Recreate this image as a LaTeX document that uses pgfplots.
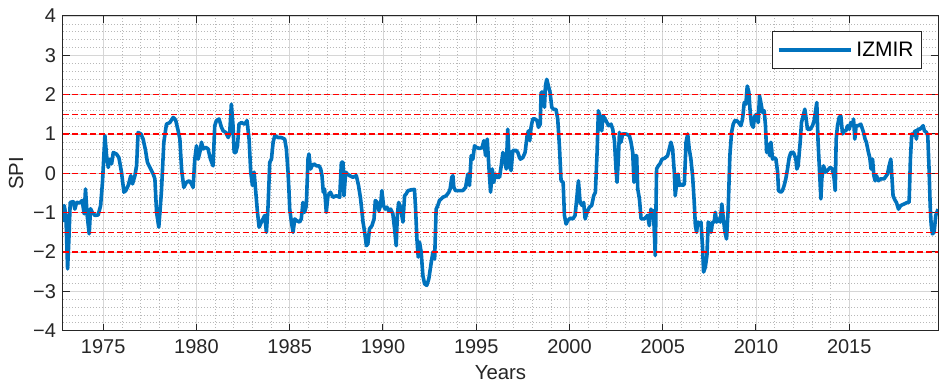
\documentclass[border=0pt]{standalone}
\usepackage{pgfplots}
\pgfplotsset{compat=1.18}
\usepackage{pgfplotstable}
\usepackage{fontspec}
\setmainfont{Liberation Sans}
\definecolor{mblue}{RGB}{0,114,189}
\definecolor{axgray}{RGB}{38,38,38}
\pgfplotstableread{
t v
1972.84 -1.24
1972.91 -0.82
1973.00 -1.07
1973.09 -2.43
1973.16 -1.67
1973.23 -0.74
1973.39 -0.72
1973.48 -0.91
1973.57 -0.74
1973.75 -0.75
1973.87 -0.69
1973.98 -1.03
1974.05 -0.40
1974.14 -1.07
1974.25 -1.54
1974.32 -0.90
1974.41 -0.99
1974.55 -1.07
1974.73 -1.06
1974.86 -0.82
1974.96 -0.23
1975.09 0.96
1975.18 0.45
1975.27 0.15
1975.36 0.36
1975.45 0.24
1975.54 0.53
1975.71 0.49
1975.84 0.40
1975.98 0.03
1976.11 -0.48
1976.21 -0.44
1976.34 -0.31
1976.48 -0.06
1976.57 -0.27
1976.70 -0.06
1976.79 0.20
1976.87 1.04
1977.02 1.00
1977.14 0.87
1977.27 0.58
1977.37 0.28
1977.50 0.15
1977.68 -0.02
1977.77 -0.14
1977.86 -0.99
1977.98 -1.37
1978.12 -0.48
1978.25 0.79
1978.39 1.25
1978.57 1.29
1978.75 1.42
1978.84 1.38
1978.89 1.34
1979.02 1.08
1979.11 0.87
1979.20 0.11
1979.32 -0.36
1979.46 -0.23
1979.61 -0.19
1979.73 -0.27
1979.82 -0.36
1979.91 0.36
1980.00 0.70
1980.09 0.36
1980.18 0.53
1980.27 0.79
1980.36 0.62
1980.50 0.66
1980.62 0.62
1980.75 0.36
1980.89 0.19
1980.98 1.21
1981.07 1.34
1981.21 1.38
1981.34 1.17
1981.43 1.08
1981.57 1.04
1981.70 0.91
1981.78 1.00
1981.87 1.76
1981.96 1.21
1982.02 0.53
1982.11 0.53
1982.20 0.70
1982.28 1.25
1982.41 1.29
1982.59 1.25
1982.71 1.34
1982.82 0.87
1982.91 0.03
1983.00 -0.31
1983.09 0.03
1983.18 -0.48
1983.27 -0.99
1983.36 -1.37
1983.48 -1.24
1983.57 -1.16
1983.66 -1.07
1983.75 -1.50
1983.84 -0.82
1983.93 0.28
1984.02 0.36
1984.11 0.79
1984.20 0.96
1984.37 0.91
1984.55 0.91
1984.73 0.87
1984.82 0.62
1984.91 0.03
1984.96 -0.45
1985.00 -0.91
1985.09 -1.24
1985.18 -1.50
1985.27 -1.16
1985.36 -1.20
1985.53 -1.24
1985.62 -1.16
1985.71 -0.74
1985.80 -0.99
1985.89 -0.82
1985.98 0.36
1986.03 0.49
1986.12 0.11
1986.19 0.19
1986.30 0.24
1986.43 0.19
1986.57 0.19
1986.66 0.11
1986.73 -0.06
1986.80 -0.48
1986.87 -0.40
1986.96 -0.99
1987.05 -0.57
1987.18 -0.48
1987.32 -0.61
1987.50 -0.57
1987.68 -0.61
1987.77 0.28
1987.86 0.28
1987.91 -0.57
1988.00 0.03
1988.09 -0.02
1988.21 -0.06
1988.39 -0.10
1988.57 -0.06
1988.69 -0.31
1988.80 -0.65
1988.93 -1.24
1989.02 -1.50
1989.11 -1.84
1989.19 -1.79
1989.28 -1.41
1989.41 -1.33
1989.52 -1.16
1989.59 -0.69
1989.69 -0.74
1989.78 -0.95
1989.87 -0.82
1989.94 -0.44
1990.03 -0.82
1990.12 -0.91
1990.21 -0.86
1990.30 -0.95
1990.41 -0.91
1990.53 -1.03
1990.62 -1.41
1990.71 -1.84
1990.77 -1.07
1990.84 -0.74
1990.94 -0.86
1991.07 -1.24
1991.16 -0.57
1991.25 -0.52
1991.34 -0.44
1991.52 -0.42
1991.69 -0.41
1991.75 -0.91
1991.82 -1.67
1991.89 -2.13
1991.96 -1.75
1992.05 -2.01
1992.14 -2.60
1992.23 -2.81
1992.35 -2.85
1992.46 -2.68
1992.59 -2.26
1992.68 -2.00
1992.77 -2.18
1992.85 -0.91
1992.94 -0.82
1993.03 -0.69
1993.21 -0.61
1993.39 -0.57
1993.53 -0.48
1993.60 -0.40
1993.69 -0.10
1993.75 -0.06
1993.80 -0.36
1993.89 -0.44
1994.10 -0.44
1994.28 -0.44
1994.43 -0.36
1994.55 -0.02
1994.64 -0.31
1994.73 0.45
1994.82 0.36
1994.91 0.70
1995.00 0.66
1995.18 0.63
1995.32 0.66
1995.41 0.83
1995.50 0.45
1995.59 0.87
1995.68 0.15
1995.77 -0.48
1995.86 0.11
1995.94 -0.23
1996.03 -0.02
1996.12 -0.10
1996.25 -0.10
1996.34 0.19
1996.43 0.53
1996.52 0.36
1996.61 0.11
1996.69 1.12
1996.78 0.19
1996.87 0.07
1996.96 0.58
1997.14 0.58
1997.23 0.53
1997.32 0.40
1997.37 0.36
1997.50 0.40
1997.62 0.53
1997.73 0.96
1997.80 1.08
1997.87 0.83
1997.94 1.17
1998.03 1.38
1998.16 1.38
1998.26 1.34
1998.34 1.17
1998.43 1.25
1998.48 2.06
1998.57 2.06
1998.66 1.68
1998.71 2.22
1998.78 2.39
1998.87 2.22
1998.96 2.06
1999.05 1.68
1999.14 1.63
1999.28 1.62
1999.37 1.38
1999.46 0.70
1999.55 -0.19
1999.66 -0.23
1999.73 -1.07
1999.82 -1.29
1999.91 -1.20
2000.05 -1.14
2000.18 -1.16
2000.30 -1.07
2000.37 -0.74
2000.48 -0.19
2000.57 -0.74
2000.68 -0.82
2000.76 -0.74
2000.84 -1.16
2000.94 -0.99
2001.07 -0.86
2001.19 -0.82
2001.30 -0.57
2001.39 -0.48
2001.48 0.53
2001.55 1.59
2001.66 1.42
2001.73 1.08
2001.80 1.46
2001.91 1.38
2002.01 1.29
2002.10 1.21
2002.23 1.25
2002.32 1.12
2002.41 0.83
2002.50 0.07
2002.55 -0.23
2002.62 0.36
2002.68 1.04
2002.76 0.79
2002.85 1.00
2003.03 1.00
2003.21 0.96
2003.30 0.79
2003.39 0.53
2003.46 -0.23
2003.53 0.45
2003.60 0.45
2003.66 -0.40
2003.75 -0.65
2003.84 -1.16
2004.01 -1.16
2004.19 -1.07
2004.28 -1.33
2004.37 -0.91
2004.42 -1.07
2004.50 -0.95
2004.55 -1.50
2004.60 -2.09
2004.67 0.11
2004.76 0.19
2004.85 0.24
2004.96 0.36
2005.09 0.38
2005.17 0.41
2005.26 0.45
2005.35 0.62
2005.44 0.79
2005.53 0.62
2005.62 0.03
2005.67 -0.57
2005.75 -0.23
2005.82 -0.02
2005.89 -0.31
2005.98 -0.27
2006.07 -0.31
2006.16 -0.27
2006.25 0.79
2006.34 1.00
2006.42 0.62
2006.51 0.36
2006.60 -0.06
2006.69 -0.74
2006.75 -1.33
2006.82 -1.50
2006.87 -1.24
2006.96 -1.29
2007.05 -1.24
2007.14 -1.92
2007.19 -2.51
2007.28 -2.39
2007.37 -2.09
2007.44 -1.24
2007.51 -1.29
2007.59 -1.50
2007.67 -1.24
2007.76 -1.24
2007.82 -0.99
2007.89 -1.24
2008.00 -1.16
2008.09 -1.24
2008.17 -0.78
2008.25 -1.16
2008.34 -1.50
2008.42 -1.67
2008.51 -0.91
2008.60 0.45
2008.69 1.04
2008.78 1.25
2008.87 1.34
2008.96 1.34
2009.07 1.29
2009.19 1.21
2009.28 1.38
2009.37 1.80
2009.46 1.76
2009.53 2.22
2009.62 2.06
2009.69 1.55
2009.76 1.25
2009.85 1.17
2009.94 1.46
2010.03 1.50
2010.12 1.29
2010.19 1.97
2010.26 1.80
2010.35 1.55
2010.44 1.59
2010.51 1.21
2010.57 0.53
2010.66 0.74
2010.73 0.45
2010.80 0.79
2010.89 0.36
2010.98 0.40
2011.07 0.36
2011.16 0.03
2011.21 -0.44
2011.33 -0.48
2011.42 -0.44
2011.51 -0.31
2011.60 -0.14
2011.69 0.11
2011.78 0.40
2011.87 0.53
2012.01 0.53
2012.14 0.36
2012.19 0.11
2012.26 0.19
2012.37 0.79
2012.44 1.29
2012.55 1.50
2012.62 1.63
2012.67 1.46
2012.76 1.12
2012.91 1.12
2013.03 1.21
2013.12 1.34
2013.21 1.63
2013.26 1.80
2013.33 0.79
2013.41 0.03
2013.48 -0.65
2013.53 -0.14
2013.62 0.19
2013.73 0.03
2013.83 0.07
2013.98 0.15
2014.10 0.11
2014.19 -0.14
2014.25 -0.44
2014.30 0.87
2014.37 1.21
2014.46 1.42
2014.55 1.46
2014.64 1.00
2014.73 1.08
2014.82 1.08
2014.91 1.21
2015.00 1.12
2015.08 1.29
2015.17 1.21
2015.23 1.38
2015.30 0.87
2015.37 1.21
2015.48 1.21
2015.62 1.25
2015.76 1.05
2015.85 0.87
2015.92 0.79
2016.03 0.53
2016.10 0.40
2016.17 0.11
2016.25 0.36
2016.32 -0.06
2016.39 -0.19
2016.46 -0.06
2016.57 -0.19
2016.69 -0.14
2016.87 -0.14
2017.05 -0.02
2017.14 0.19
2017.23 0.36
2017.28 -0.02
2017.35 -0.57
2017.46 -0.69
2017.53 -0.74
2017.64 -0.91
2017.76 -0.82
2017.94 -0.78
2018.12 -0.74
2018.21 -0.74
2018.28 0.36
2018.35 1.00
2018.42 0.96
2018.53 1.08
2018.60 0.87
2018.67 1.12
2018.78 1.12
2018.89 1.17
2018.96 1.21
2019.03 1.08
2019.14 1.04
2019.21 0.96
2019.28 0.11
2019.34 -0.82
2019.39 -1.29
2019.46 -1.54
2019.55 -1.50
2019.64 -1.07
2019.73 -0.95
2019.76 -0.91
}\spidata
\begin{document}
\begin{tikzpicture}
\begin{axis}[
  scale only axis,
  width=438pt, height=157.5pt,
  xmin=1972.84, xmax=2019.76,
  ymin=-4, ymax=4,
  xtick={1975,1980,...,2015},
  xticklabels={1975,1980,1985,1990,1995,2000,2005,2010,2015},
  ytick={-4,-3,...,4},
  yticklabels={−4,−3,−2,−1,0,1,2,3,4},
  minor x tick num=4,
  minor y tick num=4,
  tick align=inside,
  tick pos=both,
  major tick length=3.5pt,
  minor tick length=0pt,
  grid=both,
  major grid style={draw=black!16, line width=0.4pt},
  minor grid style={draw=black!28, dash pattern=on 0.5pt off 1pt, line width=0.3pt},
  axis line style={draw=axgray, line width=0.5pt},
  every tick/.style={draw=axgray, line width=0.5pt},
  tick label style={font=\fontsize{10}{12}\selectfont, text=axgray},
  xticklabel style={yshift=-1pt},
  xlabel={Years}, ylabel={SPI},
  label style={font=\fontsize{10.2}{12}\selectfont, text=axgray},
  xlabel style={yshift=1pt},
  ylabel style={yshift=-2pt},
  legend style={at={(axis description cs:0.9817,0.952)}, anchor=north east,
    draw=axgray, line width=0.5pt, fill=white, font=\fontsize{10.5}{12}\selectfont,
    inner xsep=2pt, inner ysep=3pt},
  legend cell align=left,
  legend image code/.code={\draw[#1] (0pt,0pt) -- (36pt,0pt);},
]
\addplot[mblue, line width=1.8pt, line join=round] table[x=t,y=v] {\spidata};
\addlegendentry{IZMIR}
\pgfplotsset{every axis plot/.append style={forget plot}}
\addplot[red, line width=0.75pt, dash pattern=on 3pt off 1.5pt] coordinates {(1972.84,2) (2019.76,2)};
\addplot[red, line width=0.75pt, dash pattern=on 3pt off 1.5pt] coordinates {(1972.84,1.5) (2019.76,1.5)};
\addplot[red, line width=0.75pt, dash pattern=on 3pt off 1.5pt] coordinates {(1972.84,1) (2019.76,1)};
\addplot[red, line width=0.75pt, dash pattern=on 3pt off 1.5pt] coordinates {(1972.84,0) (2019.76,0)};
\addplot[red, line width=0.75pt, dash pattern=on 3pt off 1.5pt] coordinates {(1972.84,-1) (2019.76,-1)};
\addplot[red, line width=0.75pt, dash pattern=on 3pt off 1.5pt] coordinates {(1972.84,-1.5) (2019.76,-1.5)};
\addplot[red, line width=0.75pt, dash pattern=on 3pt off 1.5pt] coordinates {(1972.84,-2) (2019.76,-2)};
\end{axis}
\pgfresetboundingbox
\path ([xshift=-31.5pt,yshift=-26pt]current axis.south west) rectangle ([xshift=0.5pt,yshift=8pt]current axis.north east);
\end{tikzpicture}
\end{document}
